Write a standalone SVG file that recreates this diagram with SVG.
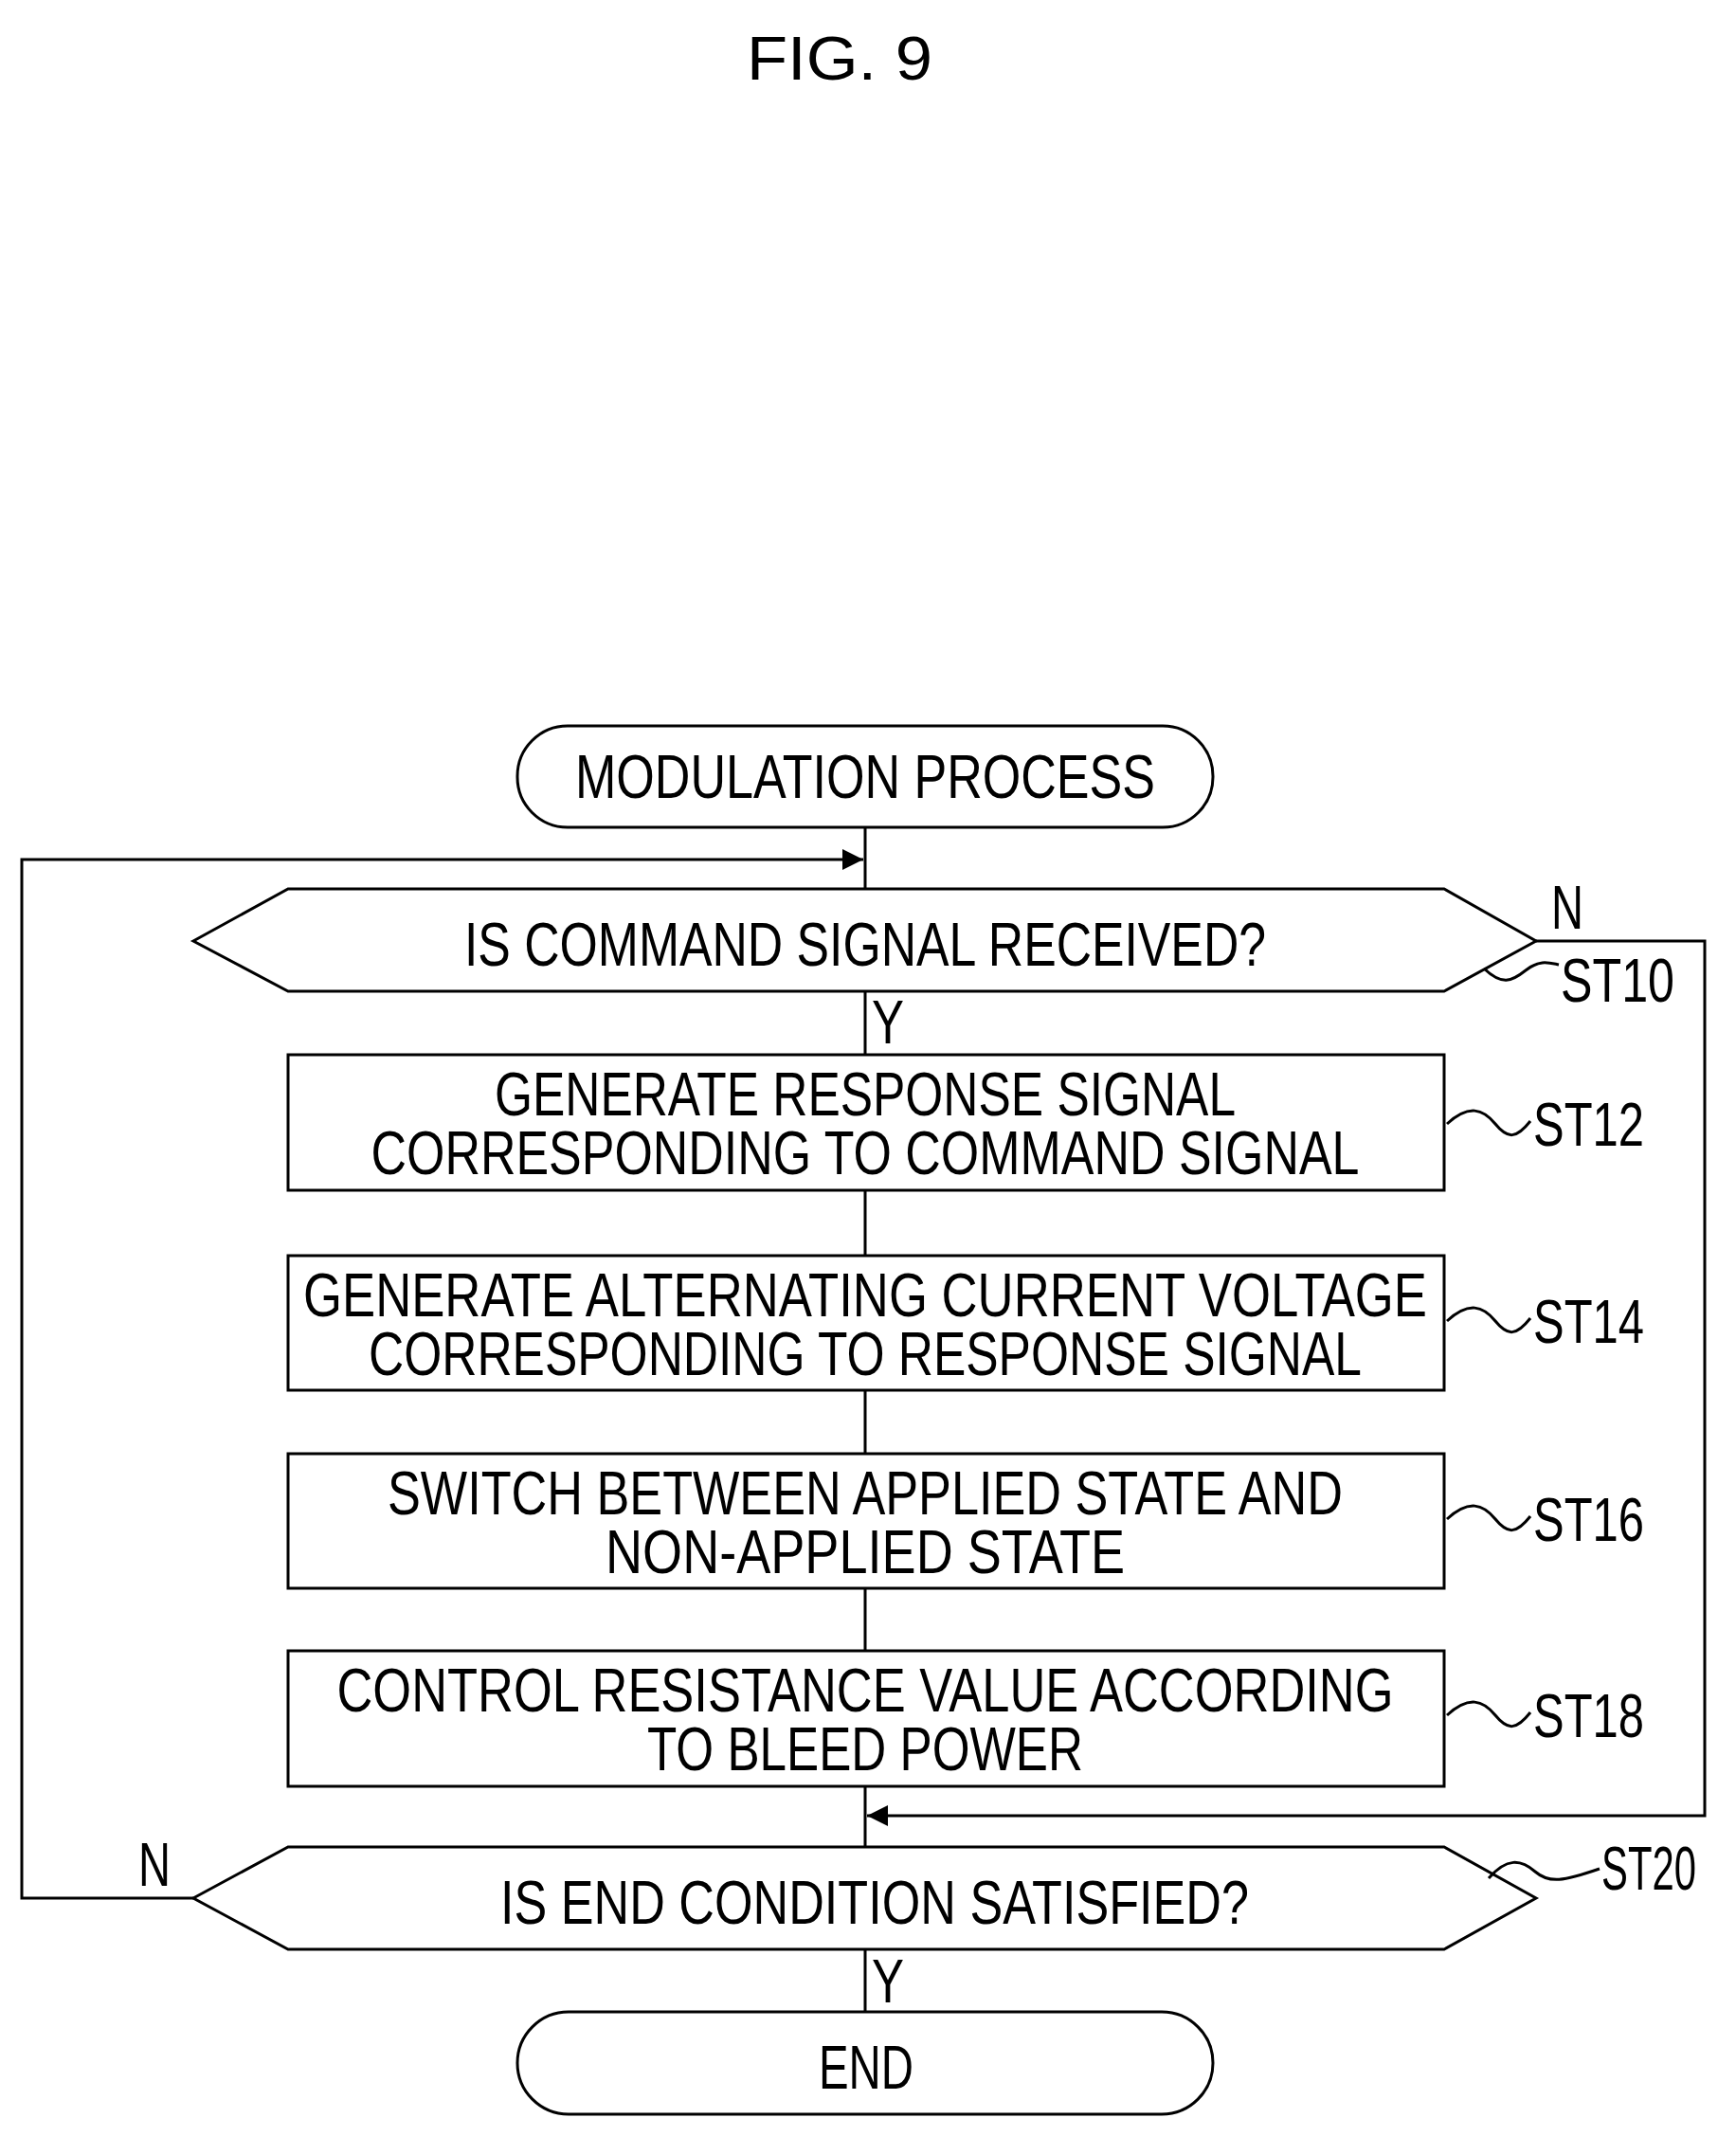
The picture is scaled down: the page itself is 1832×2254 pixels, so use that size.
<svg xmlns="http://www.w3.org/2000/svg" width="1832" height="2254" viewBox="0 0 1832 2254">
<style>
.s{fill:#fff;stroke:#000;stroke-width:3}
.l{fill:none;stroke:#000;stroke-width:3}
.t{font-family:"Liberation Sans",Arial,sans-serif;font-size:64px;fill:#000}
.c{text-anchor:middle}
</style>
<defs>
<marker id="a" viewBox="0 0 10 10" refX="10" refY="5" markerWidth="26" markerHeight="22" markerUnits="userSpaceOnUse" orient="auto"><path d="M0 0L10 5L0 10z" fill="#000"/></marker>
</defs>
<rect width="1832" height="2254" fill="#fff"/>
<text class="t" x="788" y="84" font-size="84" textLength="196" lengthAdjust="spacingAndGlyphs">FIG. 9</text>
<g id="connectors">
<path class="l" d="M913 873V938"/>
<path class="l" d="M204 2003H23V907H911" marker-end="url(#a)"/>
<path class="l" d="M913 1046V1113M913 1256V1325M913 1467V1534M913 1676V1742M913 1885V1949M913 2057V2123"/>
<path class="l" d="M1621 993H1799V1916H915" marker-end="url(#a)"/>
<text class="t" x="1637" y="980" textLength="34" lengthAdjust="spacingAndGlyphs">N</text>
<text class="t" x="920" y="1101" textLength="34" lengthAdjust="spacingAndGlyphs">Y</text>
<text class="t" x="146" y="1990" textLength="34" lengthAdjust="spacingAndGlyphs">N</text>
<text class="t" x="920" y="2113" textLength="34" lengthAdjust="spacingAndGlyphs">Y</text>
</g>
<g id="start">
<rect class="s" x="546" y="766" width="734" height="107" rx="53"/>
<text class="t c" x="913" y="842" textLength="612" lengthAdjust="spacingAndGlyphs">MODULATION PROCESS</text>
</g>
<g id="st10">
<polygon class="s" points="204,993 304,938 1524,938 1621,993 1524,1046 304,1046"/>
<text class="t c" x="913" y="1019" textLength="846" lengthAdjust="spacingAndGlyphs">IS COMMAND SIGNAL RECEIVED?</text>
<path class="l" d="M1566 1022C1585 1040 1595 1036 1610 1024S1635 1016 1645 1018"/>
<text class="t" x="1647" y="1057" textLength="120" lengthAdjust="spacingAndGlyphs">ST10</text>
</g>
<g id="st12">
<rect class="s" x="304" y="1113" width="1220" height="143"/>
<text class="t c" x="913" y="1177" textLength="782" lengthAdjust="spacingAndGlyphs">GENERATE RESPONSE SIGNAL</text>
<text class="t c" x="913" y="1239" textLength="1043" lengthAdjust="spacingAndGlyphs">CORRESPONDING TO COMMAND SIGNAL</text>
<path class="l" d="M1527 1186C1550 1165 1565 1170 1578 1186S1600 1202 1615 1183"/>
<text class="t" x="1618" y="1209" textLength="117" lengthAdjust="spacingAndGlyphs">ST12</text>
</g>
<g id="st14">
<rect class="s" x="304" y="1325" width="1220" height="142"/>
<text class="t c" x="913" y="1389" textLength="1186" lengthAdjust="spacingAndGlyphs">GENERATE ALTERNATING CURRENT VOLTAGE</text>
<text class="t c" x="913" y="1451" textLength="1048" lengthAdjust="spacingAndGlyphs">CORRESPONDING TO RESPONSE SIGNAL</text>
<path class="l" d="M1527 1394C1550 1373 1565 1378 1578 1394S1600 1410 1615 1391"/>
<text class="t" x="1618" y="1417" textLength="117" lengthAdjust="spacingAndGlyphs">ST14</text>
</g>
<g id="st16">
<rect class="s" x="304" y="1534" width="1220" height="142"/>
<text class="t c" x="913" y="1598" textLength="1008" lengthAdjust="spacingAndGlyphs">SWITCH BETWEEN APPLIED STATE AND</text>
<text class="t c" x="913" y="1660" textLength="548" lengthAdjust="spacingAndGlyphs">NON-APPLIED STATE</text>
<path class="l" d="M1527 1603C1550 1582 1565 1587 1578 1603S1600 1619 1615 1600"/>
<text class="t" x="1618" y="1626" textLength="117" lengthAdjust="spacingAndGlyphs">ST16</text>
</g>
<g id="st18">
<rect class="s" x="304" y="1742" width="1220" height="143"/>
<text class="t c" x="913" y="1806" textLength="1115" lengthAdjust="spacingAndGlyphs">CONTROL RESISTANCE VALUE ACCORDING</text>
<text class="t c" x="913" y="1868" textLength="460" lengthAdjust="spacingAndGlyphs">TO BLEED POWER</text>
<path class="l" d="M1527 1810C1550 1789 1565 1794 1578 1810S1600 1826 1615 1807"/>
<text class="t" x="1618" y="1833" textLength="117" lengthAdjust="spacingAndGlyphs">ST18</text>
</g>
<g id="st20">
<polygon class="s" points="204,2003 304,1949 1524,1949 1621,2003 1524,2057 304,2057"/>
<text class="t c" x="923" y="2030" textLength="790" lengthAdjust="spacingAndGlyphs">IS END CONDITION SATISFIED?</text>
<path class="l" d="M1571 1982C1590 1960 1605 1962 1620 1975S1650 1985 1688 1972"/>
<text class="t" x="1690" y="1994" textLength="100" lengthAdjust="spacingAndGlyphs">ST20</text>
</g>
<g id="end">
<rect class="s" x="546" y="2123" width="734" height="108" rx="54"/>
<text class="t c" x="914" y="2204" textLength="100" lengthAdjust="spacingAndGlyphs">END</text>
</g>
</svg>
